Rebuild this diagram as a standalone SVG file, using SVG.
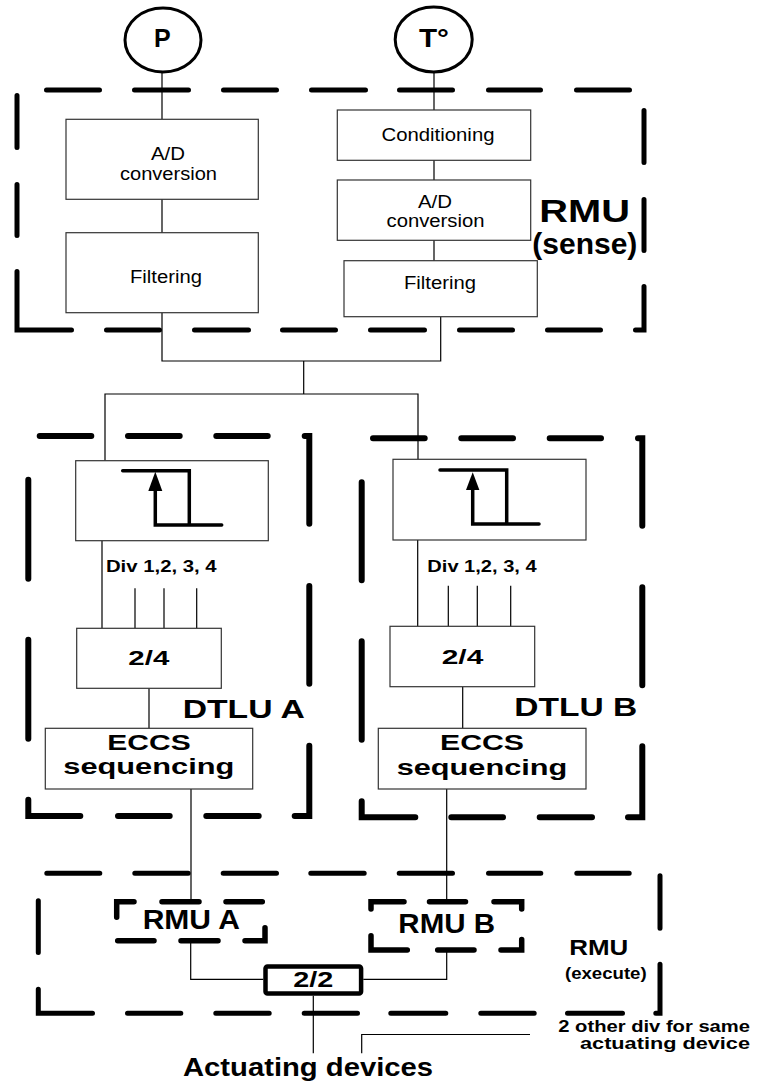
<svg xmlns="http://www.w3.org/2000/svg" width="763" height="1085" viewBox="0 0 763 1085">
<style>
text{font-family:"Liberation Sans",Arial,sans-serif;fill:#000}
.r{font-size:18px}
.b{font-weight:bold}
.box{fill:#fff;stroke:#333;stroke-width:1.2}
.ln{fill:none;stroke:#000;stroke-width:1.2}
.d5{fill:none;stroke:#000;stroke-width:5;stroke-linecap:round;stroke-linejoin:miter}
.d6{fill:none;stroke:#000;stroke-width:6;stroke-linecap:round;stroke-linejoin:miter}
.hy{fill:none;stroke:#000;stroke-width:3.5;stroke-linecap:round;stroke-linejoin:miter}
.circ{fill:#fff;stroke:#000;stroke-width:3}
</style>
<rect width="763" height="1085" fill="#fff"/>

<g id="connectors">
<path class="ln" d="M162,72 V119 M162,199 V233 M162,313 V361 H440.7 V317"/>
<path class="ln" d="M434,72 V110 M434,160 V180 M434,240 V261"/>
<path class="ln" d="M303.7,361 V394 M105,460.7 V394 H418 V459.3"/>
<path class="ln" d="M102,540.7 V628.3 M135,588.3 V628.3 M164,588.3 V628.3 M196.7,588.3 V628.3 M149,688.3 V728.3 M191,789 V901.7"/>
<path class="ln" d="M417.7,540 V626.3 M448.3,585.7 V626.3 M477.3,585.7 V626.3 M510.7,585.7 V626.3 M462.7,686.7 V728.3 M446.7,789 V901.7"/>
<path class="ln" d="M190.7,940.7 V979.3 H263.3 M363.3,979.3 H446.7 V950"/>
<path class="ln" d="M313.3,995.7 V1053.3 M361.7,1053.3 V1034.5 H530"/>
</g>

<g id="rmu-sense">
<path class="d5" d="M46.5,90H99.5M134.5,90H188.5M223.5,90H276.5M311.5,90H365.5M399.5,90H452.5M488.5,90H540.5M576.5,90H629.5
M644,110.5V162.5M644,199.5V250.5M644,286.5V330H635.5
M600.5,330H547.5M512.5,330H459.5M424.5,330H370.5M335.5,330H282.5M248.5,330H194.5M159.5,330H106.5
M71.5,330H17V271.5M17,235.5V184.5M17,147.5V95.5"/>
<text class="b" x="584.7" y="221.7" font-size="32" text-anchor="middle" textLength="90.7" lengthAdjust="spacingAndGlyphs">RMU</text>
<text class="b" x="584.8" y="254" font-size="29" text-anchor="middle" textLength="105" lengthAdjust="spacingAndGlyphs">(sense)</text>
</g>

<g id="sensor-p">
<ellipse class="circ" cx="163" cy="40" rx="38" ry="32"/>
<text class="b" x="162.3" y="47" font-size="25" text-anchor="middle">P</text>
</g>
<g id="sensor-t">
<ellipse class="circ" cx="433.7" cy="39.5" rx="38.5" ry="32.5"/>
<text class="b" x="434" y="47" font-size="25" text-anchor="middle" textLength="30" lengthAdjust="spacingAndGlyphs">T°</text>
</g>

<g id="p-ad">
<rect class="box" x="66" y="119.3" width="192.3" height="80"/>
<text class="r" x="168" y="160" text-anchor="middle" textLength="34" lengthAdjust="spacingAndGlyphs">A/D</text>
<text class="r" x="168.5" y="180" text-anchor="middle" textLength="97" lengthAdjust="spacingAndGlyphs">conversion</text>
</g>
<g id="p-filter">
<rect class="box" x="66" y="232.7" width="192.3" height="80"/>
<text class="r" x="166" y="283" text-anchor="middle" textLength="72" lengthAdjust="spacingAndGlyphs">Filtering</text>
</g>
<g id="t-cond">
<rect class="box" x="337.3" y="110" width="193.4" height="50.3"/>
<text class="r" x="438" y="141" text-anchor="middle" textLength="113" lengthAdjust="spacingAndGlyphs">Conditioning</text>
</g>
<g id="t-ad">
<rect class="box" x="337.3" y="180" width="193.4" height="60.3"/>
<text class="r" x="435" y="208" text-anchor="middle" textLength="34" lengthAdjust="spacingAndGlyphs">A/D</text>
<text class="r" x="435.5" y="227" text-anchor="middle" textLength="98" lengthAdjust="spacingAndGlyphs">conversion</text>
</g>
<g id="t-filter">
<rect class="box" x="344" y="260.7" width="193.3" height="56"/>
<text class="r" x="440" y="289" text-anchor="middle" textLength="72" lengthAdjust="spacingAndGlyphs">Filtering</text>
</g>

<g id="dtlu-a">
<path class="d6" d="M39.7,436H91.3M128,436H179.7M216.3,436H267.7M304.7,436H309.3V523.7
M309.3,586V683.7M309.3,745.7V816H294.7
M258.7,816H206.3M169.7,816H118M80.3,816H28.3V799.7
M28.3,738.7V639.7M28.3,578.7V479.7"/>
<text class="b" x="243.8" y="717.7" font-size="26" text-anchor="middle" textLength="122.3" lengthAdjust="spacingAndGlyphs">DTLU A</text>
</g>
<g id="hyst-a">
<rect class="box" x="75.7" y="460.7" width="192.6" height="80"/>
<path class="hy" d="M122.7,470.7H189.3V525M155.3,491V525H221.7"/>
<polygon points="155.3,471.7 148.3,491 162.3,491" fill="#000"/>
<text class="b" x="161.3" y="572.3" font-size="16" text-anchor="middle" textLength="110.7" lengthAdjust="spacingAndGlyphs">Div 1,2, 3, 4</text>
</g>
<g id="vote-a">
<rect class="box" x="76.7" y="628.3" width="144.6" height="60"/>
<text class="b" x="148.8" y="665" font-size="21" text-anchor="middle" textLength="41" lengthAdjust="spacingAndGlyphs">2/4</text>
</g>
<g id="eccs-a">
<rect class="box" x="45.3" y="728.3" width="207.4" height="60.7"/>
<text class="b" x="149" y="749.5" font-size="22" text-anchor="middle" textLength="83.3" lengthAdjust="spacingAndGlyphs">ECCS</text>
<text class="b" x="148.8" y="774" font-size="22" text-anchor="middle" textLength="171" lengthAdjust="spacingAndGlyphs">sequencing</text>
</g>

<g id="dtlu-b">
<path class="d6" d="M373,438.3H424.7M461.3,438.3H513M549.7,438.3H601M638,438.3H642.3V525.7
M642.3,587.3V685.3M642.3,746.3V817.3H628
M592,817.3H539.7M503,817.3H451.3M415.3,817.3H361.7V801.3
M361.7,739.7V641.3M361.7,580.3V482.3"/>
<text class="b" x="575.8" y="715.7" font-size="26" text-anchor="middle" textLength="123" lengthAdjust="spacingAndGlyphs">DTLU B</text>
</g>
<g id="hyst-b">
<rect class="box" x="393" y="459.3" width="193" height="80.7"/>
<path class="hy" d="M440,470H506.7V524M472.7,490V524H539"/>
<polygon points="472.7,472.3 466,490 479.4,490" fill="#000"/>
<text class="b" x="482" y="572.3" font-size="16" text-anchor="middle" textLength="109.4" lengthAdjust="spacingAndGlyphs">Div 1,2, 3, 4</text>
</g>
<g id="vote-b">
<rect class="box" x="390" y="626.3" width="144.7" height="60.4"/>
<text class="b" x="462.5" y="664.3" font-size="21" text-anchor="middle" textLength="41.6" lengthAdjust="spacingAndGlyphs">2/4</text>
</g>
<g id="eccs-b">
<rect class="box" x="378.3" y="728.3" width="207.7" height="60.7"/>
<text class="b" x="482" y="750" font-size="22" text-anchor="middle" textLength="84" lengthAdjust="spacingAndGlyphs">ECCS</text>
<text class="b" x="482" y="774.5" font-size="22" text-anchor="middle" textLength="170.7" lengthAdjust="spacingAndGlyphs">sequencing</text>
</g>

<g id="rmu-execute">
<path class="d5" d="M46.8,873.3H99.8M134.8,873.3H188.2M223.2,873.3H276.5M310.8,873.3H364.2M399.2,873.3H452.5M488.5,873.3H540.8M576.8,873.3H629.2
M660,875.8V928.2M660,964.2V1013.3H655.8
M622.5,1013.3H567.5M534.2,1013.3H480.8M445.8,1013.3H390.8M357.5,1013.3H304.2M269.2,1013.3H215.8M180.8,1013.3H127.5
M92.5,1013.3H38.3V989.2M38.3,952.5V900.8"/>
<text class="b" x="598.8" y="955" font-size="22" text-anchor="middle" textLength="59" lengthAdjust="spacingAndGlyphs">RMU</text>
<text class="b" x="605.8" y="979.3" font-size="16" text-anchor="middle" textLength="81.7" lengthAdjust="spacingAndGlyphs">(execute)</text>
</g>
<g id="rmu-a">
<path class="d5" style="stroke-width:5.5" d="M116.7,917.2V901.7H134M162,901.7H199M226,901.7H262.3
M265,927.7V940.7H245M218,940.7H181M154,940.7H117.7"/>
<text class="b" x="191.3" y="929.3" font-size="27" text-anchor="middle" textLength="97.3" lengthAdjust="spacingAndGlyphs">RMU A</text>
</g>
<g id="rmu-b">
<path class="d5" style="stroke-width:5.5" d="M371,909V901.7H404M429.5,901.7H465.5M494,901.7H521.7V909
M521.7,939.5V950H501M474,950H437.7M407.3,950H371V935.7"/>
<text class="b" x="446.7" y="933.3" font-size="28" text-anchor="middle" textLength="96.7" lengthAdjust="spacingAndGlyphs">RMU B</text>
</g>
<g id="vote-2-2">
<rect x="265.5" y="966.5" width="95.6" height="27" rx="2" fill="#fff" stroke="#000" stroke-width="4.5"/>
<text class="b" x="313.3" y="986.7" font-size="22" text-anchor="middle" textLength="40" lengthAdjust="spacingAndGlyphs">2/2</text>
</g>
<g id="actuating">
<text class="b" x="308" y="1076" font-size="25" text-anchor="middle" textLength="250" lengthAdjust="spacingAndGlyphs">Actuating devices</text>
</g>
<g id="other-div">
<text class="b" x="750" y="1031.7" font-size="16" text-anchor="end" textLength="191.7" lengthAdjust="spacingAndGlyphs">2 other div for same</text>
<text class="b" x="750" y="1049.3" font-size="16" text-anchor="end" textLength="170" lengthAdjust="spacingAndGlyphs">actuating device</text>
</g>
</svg>
